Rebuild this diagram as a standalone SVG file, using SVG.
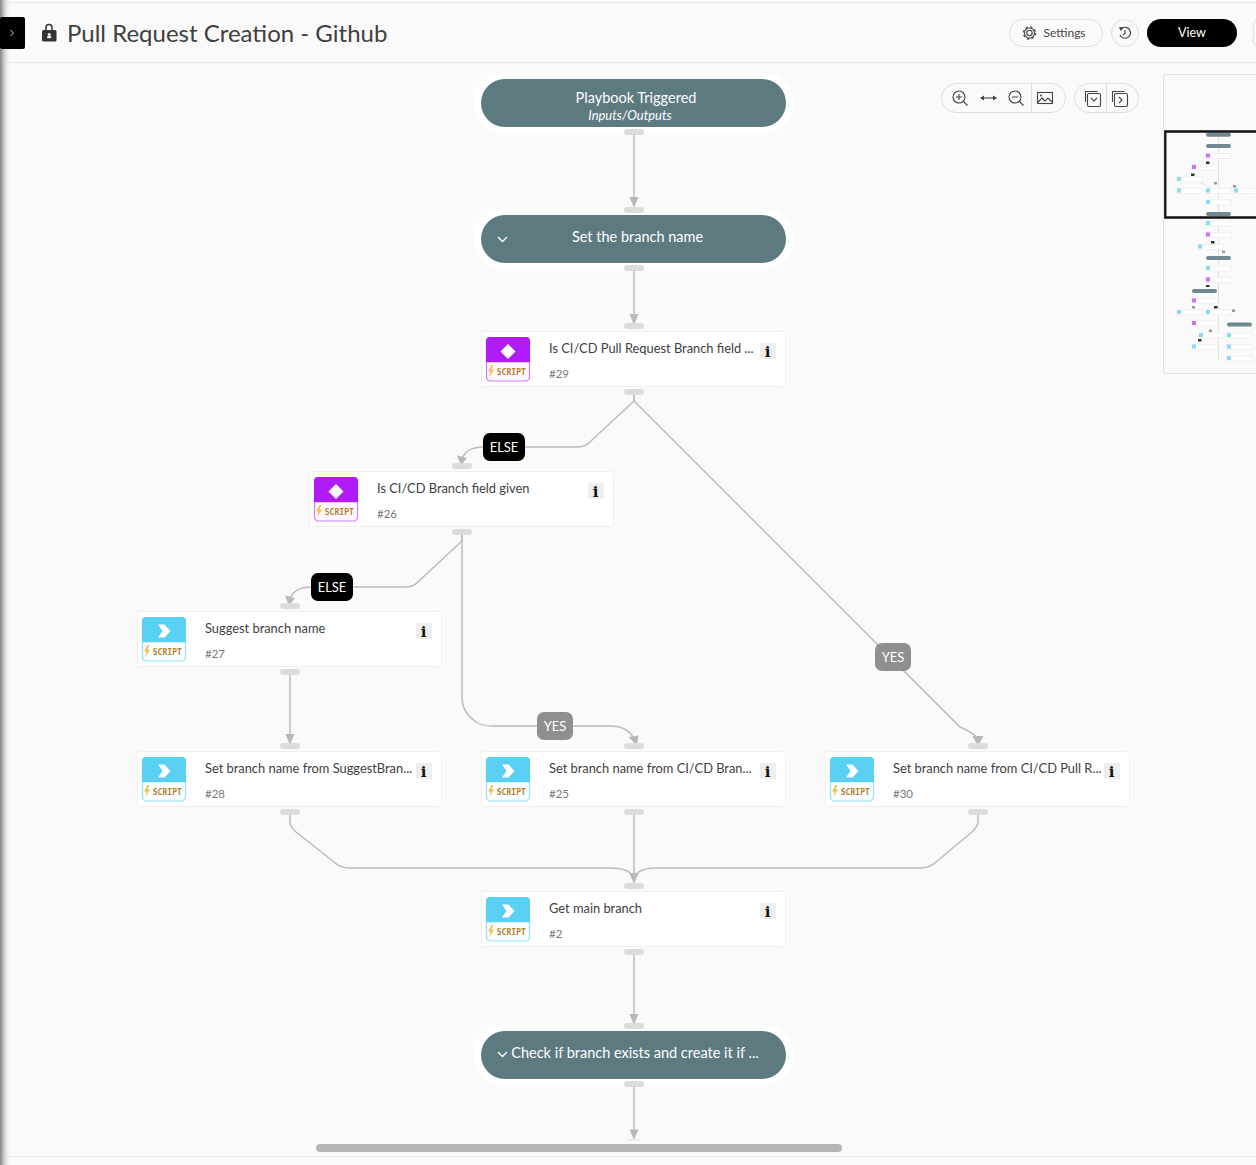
<svg xmlns="http://www.w3.org/2000/svg" xmlns:xlink="http://www.w3.org/1999/xlink" width="1256" height="1165" viewBox="0 0 1256 1165">
<style>
text{font-family:Lato,"Noto Sans","Liberation Sans",sans-serif}
.card{fill:#fff;stroke:#f0f0f0;stroke-width:1}
.title{font-size:12.85px;fill:#404040}
.num{font-size:11.5px;fill:#777}
.script{font-family:"DejaVu Sans Mono","Liberation Mono",monospace;font-size:8px;fill:#b8802c;letter-spacing:.05px;font-weight:700}
.handle{fill:#dcdcdc}
.halo{fill:#fff}
.pill{fill:#5e7a81}
.pilltext{font-size:14.5px;fill:#fff;text-anchor:middle}
.conn{fill:none;stroke:#bcbcbc;stroke-width:1.5}
.head{fill:#b8b8b8}
.else{fill:#000}
.yes{fill:#8f8f8f}
.lbl{font-size:13px;fill:#fff;text-anchor:middle}
.btn{fill:#fafafa;stroke:#dedede;stroke-width:1}
.ic{fill:none;stroke:#444;stroke-width:1.1}
.m-p{fill:#6f8890}.m-n{fill:#fff;stroke:#e8e8e8;stroke-width:.6}.m-c{fill:#8adcf6}.m-v{fill:#cf70f5}.m-k{fill:#333}.m-g{fill:#999}
</style>
<defs>
<linearGradient id="sh" x1="0" x2="1" y1="0" y2="0"><stop offset="0" stop-color="#858585"/><stop offset=".4" stop-color="#cfcfcf"/><stop offset="1" stop-color="#fafafa" stop-opacity="0"/></linearGradient>
<filter id="soft" x="-5%" y="-5%" width="110%" height="110%"><feGaussianBlur stdDeviation="0.6"/></filter>
<g id="base">
<rect class="card" x="0.5" y="0.5" width="304" height="55" rx="2"/>
<rect x="279" y="12" width="16" height="16" fill="#eeeeee"/>
<text x="286.500" y="26" text-anchor="middle" font-size="15" font-weight="900" style="font-family:'DejaVu Serif','Liberation Serif',serif" fill="#111">i</text>
</g>
<g id="ic-c">
<rect x="5.500" y="6.500" width="43" height="43.500" rx="4" fill="#f8fdff" stroke="#93e0f8" stroke-width="1.200"/>
<path d="M5 10a4 4 0 0 1 4-4h36a4 4 0 0 1 4 4v21.300H5z" fill="#5ad0f4"/>
<path d="M21 13.500h6.500l6 6.500-6 6.500H21l4.500-6.500z" fill="#fff"/>
<path d="M10.500 34l-3.300 6.500h2.500l-1.700 6 5-8h-2.600l1.800-4.500z" fill="#f5bd42"/>
<text class="script" x="15.700" y="44">SCRIPT</text>
</g>
<g id="ic-v">
<rect x="5.500" y="6.500" width="43" height="43.500" rx="4" fill="#fdf6ff" stroke="#d27cf7" stroke-width="1.200"/>
<path d="M5 10a4 4 0 0 1 4-4h36a4 4 0 0 1 4 4v21.300H5z" fill="#b01cf7"/>
<path d="M27 13l7.500 7.500L27 28l-7.500-7.500z" fill="#fff"/>
<path d="M10.500 34l-3.300 6.500h2.500l-1.700 6 5-8h-2.600l1.800-4.500z" fill="#f5bd42"/>
<text class="script" x="15.700" y="44">SCRIPT</text>
</g>
<g id="hs">
<rect class="handle" x="-10" y="0" width="20" height="6" rx="3"/>
</g>
</defs>

<rect width="1256" height="1165" fill="#fafafa"/>
<rect x="0" y="2" width="1256" height="1" fill="#e8e8e8"/>
<rect x="0" y="62" width="1256" height="1" fill="#e8e8e8"/>
<rect x="0" y="1156" width="1256" height="1" fill="#e8e8e8"/>
<rect id="edge-shadow" x="0" y="0" width="11" height="1165" fill="url(#sh)"/>

<g id="connectors">
<path class="conn" d="M634 135V200"/>
<path class="conn" d="M634 271V316"/>
<path class="conn" d="M634 395V401L592 440Q586 447 578 447H484Q466 447 462 459"/>
<path class="conn" d="M634 395V401L960 727Q974 733 978 739"/>
<path class="conn" d="M462 535V541L420 580Q414 587 406 587H312Q294 587 290 599"/>
<path class="conn" d="M462 535V698Q462 712 476 722Q482 726 492 726H610Q628 726 634 739"/>
<path class="conn" d="M290 675V736"/>
<path class="conn" d="M290 815V822Q290 826 296 832L334 862Q340 868 350 868H610Q630 868 634 878"/>
<path class="conn" d="M634 815V876"/>
<path class="conn" d="M978 815V822Q978 826 972 832L936 862Q930 868 920 868H656Q638 868 634 878"/>
<path class="conn" d="M634 955V1016"/>
<path class="conn" d="M634 1087V1131"/>
<g class="head">
<path d="M629.500 197h9l-4.500 11z"/>
<path d="M629.500 314h9l-4.500 11z"/>
<path d="M457 455.500l10 2.500-6 7.500z"/>
<path d="M285 595.500l10 2.500-6 7.500z"/>
<path d="M628.500 737l10-1.500-1.500 10z"/>
<path d="M972.500 736h11l-5.500 10z"/>
<path d="M285.500 734h9l-4.500 11z"/>
<path d="M629.300 873h9.400l-4.700 11z"/>
<path d="M629.500 1014h9l-4.500 11z"/>
<path d="M629.500 1129.500h9l-4.500 10.500z"/>
</g>
<rect x="628" y="1139.500" width="12" height="1" fill="#dcdcdc"/>
</g>

<g id="label-else-1"><rect class="else" x="483" y="433" width="42" height="28" rx="7"/><text class="lbl" x="504" y="452">ELSE</text></g>
<g id="label-else-2"><rect class="else" x="311" y="573" width="42" height="28" rx="7"/><text class="lbl" x="332" y="592">ELSE</text></g>
<g id="label-yes-1"><rect class="yes" x="537" y="712" width="36" height="28" rx="7"/><text class="lbl" x="555" y="731">YES</text></g>
<g id="label-yes-2"><rect class="yes" x="875" y="643" width="36" height="28" rx="7"/><text class="lbl" x="893" y="662">YES</text></g>

<g id="node-trigger">
<rect class="halo" x="473" y="73" width="321" height="60" rx="30"/>
<rect class="pill" x="481" y="79" width="305" height="48" rx="24"/>
<text class="pilltext" x="636" y="103">Playbook Triggered</text>
<text x="630" y="120" text-anchor="middle" font-size="12.900" font-style="italic" fill="#fff">Inputs/Outputs</text>
<use href="#hs" x="634" y="129"/>
</g>
<g id="node-set-branch">
<rect class="halo" x="473" y="209" width="321" height="60" rx="30"/>
<rect class="pill" x="481" y="215" width="305" height="48" rx="24"/>
<path d="M498 237l4.500 4.500 4.500-4.500" fill="none" stroke="#fff" stroke-width="1.400"/>
<text class="pilltext" x="637.500" y="242">Set the branch name</text>
<use href="#hs" x="634" y="207"/><use href="#hs" x="634" y="265"/>
</g>
<g id="node-29" transform="translate(481,331)">
<use href="#base"/><use href="#ic-v"/>
<text class="title" x="68" y="22">Is CI/CD Pull Request Branch field ...</text><text class="num" x="68" y="47">#29</text>
<use href="#hs" x="153" y="-8"/><use href="#hs" x="153" y="58"/>
</g>
<g id="node-26" transform="translate(309,471)">
<use href="#base"/><use href="#ic-v"/>
<text class="title" x="68" y="22">Is CI/CD Branch field given</text><text class="num" x="68" y="47">#26</text>
<use href="#hs" x="153" y="-8"/><use href="#hs" x="153" y="58"/>
</g>
<g id="node-27" transform="translate(137,611)">
<use href="#base"/><use href="#ic-c"/>
<text class="title" x="68" y="22">Suggest branch name</text><text class="num" x="68" y="47">#27</text>
<use href="#hs" x="153" y="-8"/><use href="#hs" x="153" y="58"/>
</g>
<g id="node-28" transform="translate(137,751)">
<use href="#base"/><use href="#ic-c"/>
<text class="title" x="68" y="22">Set branch name from SuggestBran...</text><text class="num" x="68" y="47">#28</text>
<use href="#hs" x="153" y="-8"/><use href="#hs" x="153" y="58"/>
</g>
<g id="node-25" transform="translate(481,751)">
<use href="#base"/><use href="#ic-c"/>
<text class="title" x="68" y="22">Set branch name from CI/CD Bran...</text><text class="num" x="68" y="47">#25</text>
<use href="#hs" x="153" y="-8"/><use href="#hs" x="153" y="58"/>
</g>
<g id="node-30" transform="translate(825,751)">
<use href="#base"/><use href="#ic-c"/>
<text class="title" x="68" y="22">Set branch name from CI/CD Pull R...</text><text class="num" x="68" y="47">#30</text>
<use href="#hs" x="153" y="-8"/><use href="#hs" x="153" y="58"/>
</g>
<g id="node-2" transform="translate(481,891)">
<use href="#base"/><use href="#ic-c"/>
<text class="title" x="68" y="22">Get main branch</text><text class="num" x="68" y="47">#2</text>
<use href="#hs" x="153" y="-8"/><use href="#hs" x="153" y="58"/>
</g>
<g id="node-check">
<rect class="halo" x="473" y="1025" width="321" height="60" rx="30"/>
<rect class="pill" x="481" y="1031" width="305" height="48" rx="24"/>
<path d="M498 1052l4.500 4.500 4.500-4.500" fill="none" stroke="#fff" stroke-width="1.400"/>
<text class="pilltext" x="635" y="1058">Check if branch exists and create it if ...</text>
<use href="#hs" x="634" y="1023"/><use href="#hs" x="634" y="1081"/>
</g>

<g id="header">
<rect x="0" y="17" width="25" height="32" rx="2" fill="#000"/>
<path d="M10.500 30l3 3-3 3" fill="none" stroke="#ccc" stroke-width="1"/>
<path d="M46 30v-2.500a3 3 0 0 1 6 0v2.500" fill="none" stroke="#333" stroke-width="1.500"/>
<rect x="42" y="30" width="14.500" height="11.500" rx="1.500" fill="#333"/>
<circle cx="49.200" cy="34.500" r="1.500" fill="#fff"/><rect x="47.200" y="36.200" width="4" height="2" fill="#fff"/>
<text x="67" y="42" font-size="24" fill="#404040">Pull Request Creation - Github</text>
<rect class="btn" x="1009.500" y="19.500" width="93" height="27" rx="13.500"/>
<circle cx="1029.500" cy="33" r="2.700" class="ic" stroke-width=".9"/><circle cx="1029.500" cy="33" r="5" class="ic" stroke-width=".9"/><circle cx="1029.500" cy="33" r="6" fill="none" stroke="#555" stroke-width="1.500" stroke-dasharray="2.300 2.410"/>
<text x="1043.500" y="37" font-size="12" fill="#444">Settings</text>
<rect class="btn" x="1111.500" y="19.500" width="27" height="27" rx="13.500"/>
<path d="M1121.500 28.500a5.500 5.500 0 1 1-1.500 6.500M1125 30v3.500l-2 1.500" fill="none" stroke="#444" stroke-width="1.200"/><path d="M1119 27l5 .5-3.500 3.500z" fill="#444"/>
<rect x="1147" y="19" width="90" height="28" rx="14" fill="#000"/>
<text x="1192" y="37" font-size="12.500" fill="#fff" text-anchor="middle">View</text>
<path d="M1256 19.500a14 14 0 0 0-2 13.500 14 14 0 0 0 2 13.500" fill="none" stroke="#dedede"/>
</g>

<g id="toolbar">
<rect class="btn" x="941.500" y="83.500" width="124" height="29" rx="14.500"/>
<rect class="btn" x="1074.500" y="83.500" width="64" height="29" rx="14.500"/>
<path d="M1031.500 84v28M1106.500 84v28" stroke="#dedede"/>
<circle cx="959" cy="97" r="6" class="ic"/><path d="M963.500 101.500l4 4M956 97h6M959 94v6" class="ic"/>
<path d="M981 98h15" class="ic"/><path d="M980 98l4-2.500v5zM997 98l-4-2.500v5z" fill="#444"/>
<circle cx="1015" cy="97" r="6" class="ic"/><path d="M1019.500 101.500l4 4M1012 97h6" class="ic"/>
<rect x="1037.500" y="92.500" width="15" height="11" class="ic"/><path d="M1038 102l4-4 3 3 3-3 4 4" class="ic"/><circle cx="1041" cy="95.500" r="1" fill="#444"/>
<path d="M1085.500 102v-10.500h12" class="ic"/><rect x="1087.500" y="93.500" width="13" height="13" rx="1.500" class="ic"/><path d="M1091 98l3 3 3-3" class="ic" stroke-width="1.400"/>
<path d="M1112.500 102v-10.500h12" class="ic"/><rect x="1114.500" y="93.500" width="13" height="13" rx="1.500" class="ic"/><path d="M1119 97l3 3-3 3" class="ic" stroke-width="1.400"/>
</g>

<g id="minimap">
<rect x="1163.500" y="74.500" width="100" height="299" rx="2" fill="#fafafa" stroke="#e0e0e0"/>
<g filter="url(#soft)">
<path d="M1218.500 137V360M1190 176l25 15" stroke="#e2e2e2" stroke-width="1" fill="none"/>
<g class="m-n">
<rect x="1206" y="153.500" width="25" height="5"/><rect x="1192" y="165" width="25" height="5"/><rect x="1177" y="177" width="25" height="5"/>
<rect x="1177" y="188.500" width="25" height="5"/><rect x="1206" y="188.500" width="25" height="5"/><rect x="1234" y="188.500" width="22" height="5"/>
<rect x="1206" y="200" width="25" height="5"/><rect x="1206" y="221" width="25" height="5"/><rect x="1206" y="232.500" width="25" height="5"/>
<rect x="1198" y="244.500" width="25" height="5"/><rect x="1206" y="266" width="25" height="5"/><rect x="1206" y="277.500" width="25" height="5"/>
<rect x="1192" y="298.500" width="25" height="5"/><rect x="1177" y="310" width="25" height="5"/><rect x="1206" y="310" width="25" height="5"/>
<rect x="1192" y="321" width="25" height="5"/><rect x="1199" y="333" width="25" height="5"/><rect x="1227" y="333" width="25" height="5"/>
<rect x="1192" y="344.500" width="25" height="5"/><rect x="1227" y="344.500" width="25" height="5"/><rect x="1227" y="356" width="25" height="5"/>
</g>
<g class="m-p">
<rect x="1206" y="132.700" width="25" height="4" rx="2"/><rect x="1206" y="144" width="25" height="4" rx="2"/>
<rect x="1206" y="212" width="25" height="4" rx="2"/><rect x="1206" y="256" width="25" height="4" rx="2"/>
<rect x="1192" y="289" width="25" height="4" rx="2"/><rect x="1227" y="322.500" width="25" height="4" rx="2"/>
</g>
<g class="m-v">
<rect x="1206" y="153.500" width="4" height="4"/><rect x="1192" y="165" width="4" height="4"/><rect x="1206" y="232.500" width="4" height="4"/>
<rect x="1206" y="277.500" width="4" height="4"/><rect x="1192" y="298.500" width="4" height="4"/><rect x="1192" y="321" width="4" height="4"/>
</g>
<g class="m-c">
<rect x="1177" y="177" width="4" height="4"/><rect x="1177" y="188.500" width="4" height="4"/><rect x="1206" y="188.500" width="4" height="4"/>
<rect x="1234" y="188.500" width="4" height="4"/><rect x="1206" y="200" width="4" height="4"/><rect x="1206" y="221" width="4" height="4"/>
<rect x="1198" y="244.500" width="4" height="4"/><rect x="1206" y="266" width="4" height="4"/><rect x="1177" y="310" width="4" height="4"/>
<rect x="1206" y="310" width="4" height="4"/><rect x="1199" y="333" width="4" height="4"/><rect x="1227" y="333" width="4" height="4"/>
<rect x="1192" y="344.500" width="4" height="4"/><rect x="1227" y="344.500" width="4" height="4"/><rect x="1227" y="356" width="4" height="4"/>
</g>
<g class="m-k">
<rect x="1206" y="161.500" width="3.500" height="2.500"/><rect x="1191" y="173.500" width="3.500" height="2.500"/><rect x="1211" y="241" width="3.500" height="2.500"/>
<rect x="1206" y="285" width="3.500" height="2"/><rect x="1214" y="306" width="3.500" height="2.500"/><rect x="1198" y="339" width="3.500" height="2.500"/>
</g>
<g class="m-g">
<rect x="1214" y="182" width="3" height="2.500"/><rect x="1233" y="185" width="3" height="2.500"/><rect x="1222" y="250.500" width="3" height="2.500"/>
<rect x="1192" y="306" width="3" height="2.500"/><rect x="1232" y="309.500" width="3" height="2.500"/><rect x="1209" y="329.500" width="3" height="2.500"/>
</g>
</g>
<path d="M1256 131.500H1165.300V217.500H1256" fill="none" stroke="#111" stroke-width="2.300"/>
</g>

<rect id="scrollbar" x="316" y="1144" width="526" height="8" rx="4" fill="#b5b5b5"/>
</svg>
